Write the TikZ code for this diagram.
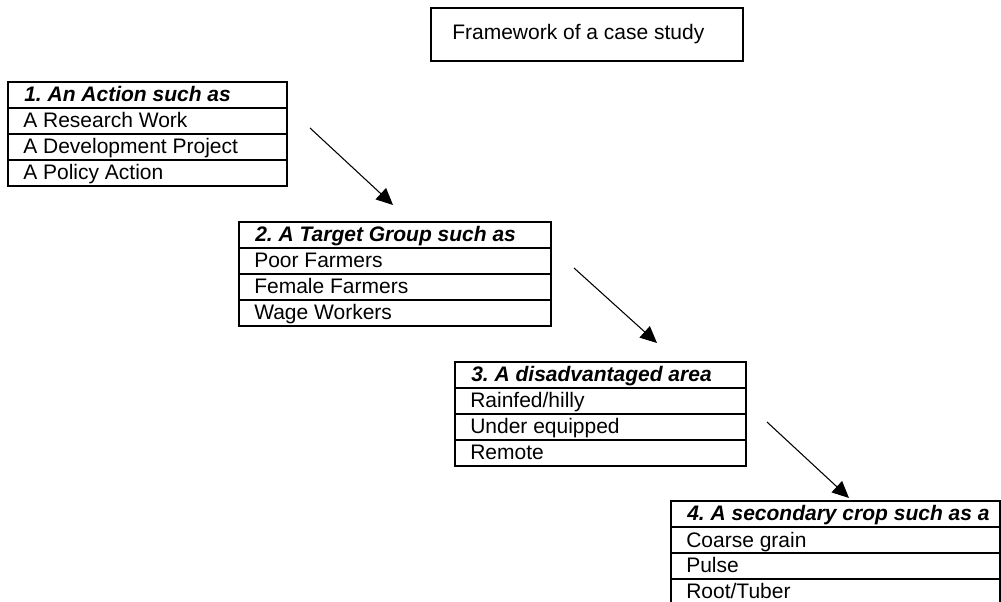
\documentclass[tikz,border=0pt]{standalone}
\usepackage{fontspec}
\setmainfont{Liberation Sans}
\usetikzlibrary{arrows.meta}
\frenchspacing
\newcommand\casetab[8]{%
  \draw[tab] (#2,#3) rectangle (#2+#4,#3+104);
  \foreach \k in {1,2,3} {\draw[tab] (#2,#3+26*\k) -- (#2+#4,#3+26*\k);}
  \node[hdr] (#1h) at (#2+16,#3+20) {#5};
  \node[txt] (#1a) at (#2+15,#3+46) {#6};
  \node[txt] (#1b) at (#2+15,#3+72) {#7};
  \node[txt] (#1c) at (#2+15,#3+98) {#8};
}
\begin{document}
\begin{tikzpicture}[x=0.75pt,y=-0.75pt,
  tab/.style={line width=1pt},
  txt/.style={anchor=base west, inner sep=0pt, font=\frenchspacing\fontsize{15.75pt}{18pt}\selectfont},
  hdr/.style={anchor=base west, inner sep=0pt, font=\frenchspacing\fontsize{15.75pt}{18pt}\selectfont\bfseries\itshape},
  arr/.style={line width=0.8pt, -{Triangle[length=12.5pt,width=11.5pt]}}]
\useasboundingbox (0,0) rectangle (1001,602);
% title
\draw[line width=0.9pt] (431,8) rectangle (743,61);
\node[txt] (title) at (452,39.5) {Framework of a case study};
% tables
\casetab{t1}{8}{82}{279}{1. An Action such as}{A Research Work}{A Development Project}{A Policy Action}
\casetab{t2}{239}{222}{312}{2. A Target Group such as}{Poor Farmers}{Female Farmers}{Wage Workers}
\casetab{t3}{455}{362}{291}{3. A disadvantaged area}{Rainfed/hilly}{Under equipped}{Remote}
\casetab{t4}{671}{501}{329}{4. A secondary crop such as a}{Coarse grain}{Pulse}{Root/Tuber}
% arrows
\coordinate (a1s) at (310,128); \coordinate (a1e) at (393,205);
\coordinate (a2s) at (574,268); \coordinate (a2e) at (657,343);
\coordinate (a3s) at (767,422); \coordinate (a3e) at (849,498);
\draw[arr] (a1s) -- (a1e);
\draw[arr] (a2s) -- (a2e);
\draw[arr] (a3s) -- (a3e);
\end{tikzpicture}
\end{document}
